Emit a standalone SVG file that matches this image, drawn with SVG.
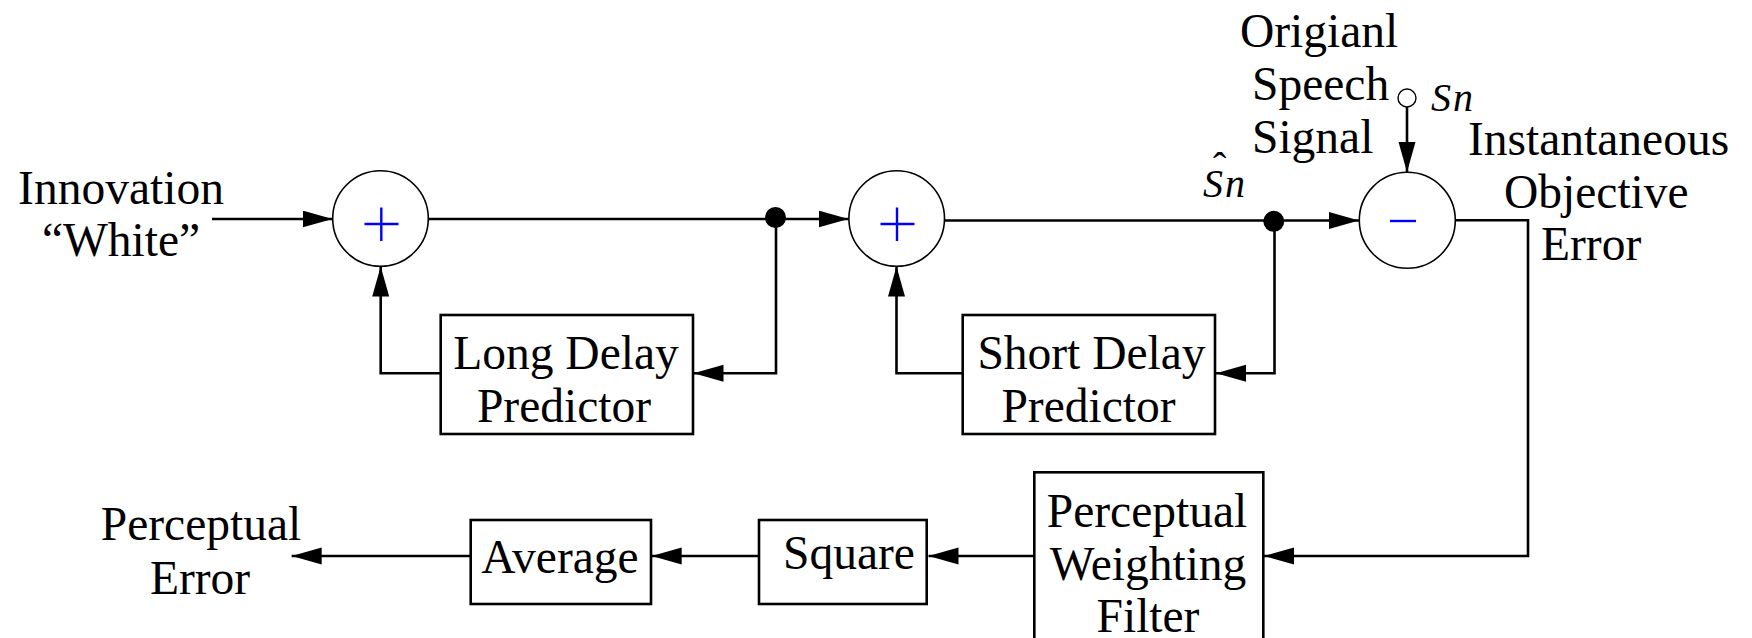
<svg xmlns="http://www.w3.org/2000/svg" width="1752" height="638" viewBox="0 0 1752 638">
  <style>
    .t { font-family: "Liberation Serif", "Times New Roman", serif; font-size: 47.5px; fill: #000; }
    .it { font-family: "Liberation Serif", "Times New Roman", serif; font-style: italic; font-size: 40px; fill: #000; }
    .box { fill: #fff; stroke: #000; stroke-width: 2.6; }
    .sum { fill: #fff; stroke: #000; stroke-width: 1.6; }
    .sign { stroke: #0000ff; stroke-width: 2.4; fill: none; }
    .wire { fill: none; stroke: #000; stroke-width: 2.6; }
    .arrow { marker-end: url(#head); }
  </style>
  <defs>
    <marker id="head" markerUnits="userSpaceOnUse" markerWidth="31" markerHeight="18" refX="30" refY="8.5" orient="auto">
      <path d="M0,0 L30,8.5 L0,17 Z" fill="#000"/>
    </marker>
  </defs>
  <rect width="1752" height="638" fill="#fff"/>

  <!-- signal paths -->
  <g id="connectors">
    <path class="wire arrow" d="M212,219 H332.5"/>
    <path class="wire arrow" d="M428,219 H848.5"/>
    <path class="wire arrow" d="M776,219 V373.3 H693.5"/>
    <path class="wire arrow" d="M440.7,373.3 H380.7 V266.5"/>
    <path class="wire arrow" d="M939,220.5 H1359"/>
    <path class="wire arrow" d="M1274.5,220.5 V373.3 H1216"/>
    <path class="wire arrow" d="M962.7,373.3 H896.5 V266.5"/>
    <path class="wire arrow" d="M1407,107 V172"/>
    <path class="wire arrow" d="M1455,220.3 H1528 V556 H1264"/>
    <path class="wire arrow" d="M1034.3,556 H928.5"/>
    <path class="wire arrow" d="M759,556 H651.7"/>
    <path class="wire arrow" d="M470.7,556 H291.7"/>
    <circle cx="775.5" cy="217.5" r="10.5" fill="#000"/>
    <circle cx="1273.8" cy="221.3" r="10.5" fill="#000"/>
  </g>

  <!-- excitation input -->
  <g id="innovation">
    <text class="t" x="121" y="204" text-anchor="middle">Innovation</text>
    <text class="t" x="121" y="256" text-anchor="middle">“White”</text>
  </g>

  <!-- first adder -->
  <g id="adder1">
    <circle class="sum" cx="380.5" cy="218.5" r="47.8"/>
    <path class="sign" d="M364.5,224 H398.5 M381.3,207.5 V241"/>
  </g>

  <!-- long-term (pitch) predictor -->
  <g id="long-delay">
    <rect class="box" x="440.7" y="315" width="252.3" height="119"/>
    <text class="t" x="566" y="369.3" text-anchor="middle">Long Delay</text>
    <text class="t" x="564" y="421.7" text-anchor="middle">Predictor</text>
  </g>

  <!-- second adder -->
  <g id="adder2">
    <circle class="sum" cx="896.7" cy="218.5" r="47.8"/>
    <path class="sign" d="M880.5,224 H914.5 M897,207.5 V241"/>
  </g>

  <!-- short-term (formant) predictor -->
  <g id="short-delay">
    <rect class="box" x="962.7" y="315" width="252.3" height="119"/>
    <text class="t" x="1091.5" y="369.3" text-anchor="middle">Short Delay</text>
    <text class="t" x="1088.5" y="421.7" text-anchor="middle">Predictor</text>
  </g>

  <!-- reconstructed speech label: hat set well above S, then Sn -->
  <g id="s-hat">
    <text class="it"><tspan x="1213" y="180" font-style="normal">ˆ</tspan><tspan x="1203" y="197" letter-spacing="2">Sn</tspan></text>
  </g>

  <!-- original speech input -->
  <g id="original-speech">
    <text class="t" x="1240" y="47">Origianl</text>
    <text class="t" x="1252" y="100">Speech</text>
    <text class="t" x="1252" y="153">Signal</text>
    <circle cx="1407" cy="98" r="9" fill="#fff" stroke="#000" stroke-width="1.4"/>
    <text class="it" x="1431" y="111" letter-spacing="2">Sn</text>
  </g>

  <!-- subtractor -->
  <g id="subtractor">
    <circle class="sum" cx="1407.3" cy="220.3" r="48"/>
    <path class="sign" d="M1390,221 H1416" stroke-width="2"/>
  </g>

  <g id="instantaneous-error">
    <text class="t" x="1468" y="155">Instantaneous</text>
    <text class="t" x="1504" y="207.5">Objective</text>
    <text class="t" x="1541" y="259.5">Error</text>
  </g>

  <!-- perceptual weighting filter -->
  <g id="weighting-filter">
    <rect class="box" x="1034.3" y="472.3" width="229" height="190"/>
    <text class="t" x="1147" y="527" text-anchor="middle">Perceptual</text>
    <text class="t" x="1148" y="580" text-anchor="middle">Weighting</text>
    <text class="t" x="1148" y="632" text-anchor="middle">Filter</text>
  </g>

  <g id="square">
    <rect class="box" x="759" y="520" width="167.7" height="84"/>
    <text class="t" x="849" y="569.3" text-anchor="middle">Square</text>
  </g>

  <g id="average">
    <rect class="box" x="470.7" y="520" width="180.3" height="84"/>
    <text class="t" x="560" y="573.3" text-anchor="middle">Average</text>
  </g>

  <g id="perceptual-error">
    <text class="t" x="201" y="540" text-anchor="middle">Perceptual</text>
    <text class="t" x="200" y="594" text-anchor="middle">Error</text>
  </g>
</svg>
